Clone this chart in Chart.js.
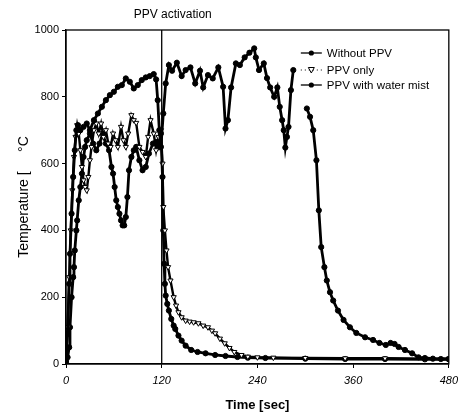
<!DOCTYPE html>
<html>
<head>
<meta charset="utf-8">
<script src="https://cdn.jsdelivr.net/npm/chart.js@4.4.0/dist/chart.umd.min.js"></script>
<style>
  body { margin: 0; background: #fff; }
  #wrap { width: 464px; height: 417px; }
</style>
</head>
<body>
<div id="wrap"><canvas id="grafico" width="464" height="417"></canvas></div>
<script>
// valores (tempo em s, temperatura em °C)
const seriesNames = ['Without PPV', 'PPV only', 'PPV with water mist'];

const withoutTime = [0, 2, 4, 5, 7, 9, 11, 13, 15, 18, 22, 26, 30, 35, 40, 45, 50, 55, 60, 65, 70, 75, 80, 85, 90, 95, 100, 105, 110, 113, 115, 117, 119,
  122, 125, 129, 133, 139, 145, 150, 156, 162, 168, 172, 178, 184, 191, 197, 200, 203, 207, 213, 218, 224, 230, 236, 238, 242, 248, 252, 256, 261, 265,
  268, 271, 273, 275, 277, 279, 282, 285, 293, 302, 306, 310, 314, 317, 320, 324, 327, 331, 335, 341, 348, 356, 364, 375, 385, 393, 401, 407, 412, 417,
  425, 434, 442, 450, 460, 470, 480];
const withoutTemp = [10, 90, 240, 330, 450, 560, 640, 700, 715, 700, 710, 720, 700, 730, 750, 770, 790, 805, 815, 830, 835, 855, 845, 825, 835, 850, 858, 862, 868, 852, 790, 700, 650,
  750, 840, 895, 878, 902, 862, 880, 888, 840, 878, 828, 865, 855, 888, 830, 705, 730, 828, 900, 895, 918, 932, 945, 918, 880, 900, 856, 828, 800, 828,
  770, 730, 700, 648, 680, 710, 820, 880, null, 765, 740, 700, 610, 460, 350, 290, 250, 215, 190, 160, 132, 110, 93, 80, 72, 63, 57, 63, 60, 51,
  42, 32, 20, 18, 16, 15, 15];

const ppvTime = [0, 2, 4, 6, 8, 10, 12, 14, 16, 18, 20, 22, 24, 26, 28, 30, 32, 35, 38, 41, 44, 47, 50, 53, 56, 59, 62, 65, 69, 72, 75, 78, 82, 85, 88,
  92, 96, 100, 103, 106, 110, 113, 116, 119, 121, 122, 124, 126, 128, 131, 135, 138, 141, 145, 150, 155, 160, 166, 172, 178, 183, 187, 193, 199, 205,
  211, 220, 228, 240, 260, 300, 350, 400, 450, 480];
const ppvTemp = [10, 110, 260, 400, 520, 620, 680, 715, 690, 640, 590, 550, 530, 520, 560, 610, 650, 700, 720, 690, 720, 680, 700, 660, 650, 690, 670, 650, 710, 670, 650, 690, 745, 730, 722,
  650, 635, 620, 680, 730, 690, 640, 680, 700, 600, 470, 400, 340, 290, 250, 200, 175, 155, 140, 130, 127, 125, 122, 115, 110, 100, 92, 76, 62, 48,
  36, 27, 22, 20, 19, 18, 17, 17, 16, 16];

const mistTime = [0, 2, 4, 5, 7, 9, 10, 11, 13, 14, 16, 18, 20, 22, 24, 26, 30, 34, 38, 42, 46, 50, 54, 57, 59, 61, 63, 65, 67, 69, 71, 73, 75, 77, 79,
  82, 85, 88, 92, 96, 100, 104, 109, 113, 116, 119, 121, 122, 123, 124, 125, 127, 129, 132, 135, 137, 141, 145, 150, 157, 165, 175, 187, 200, 215,
  228, 250, 300, 350, 400, 450, 480];
const mistTemp = [5, 20, 50, 110, 200, 260, 290, 340, 400, 430, 490, 530, 570, 620, 650, 670, 690, 660, 640, 660, 690, 660, 640, 590, 570, 530, 490, 470, 450, 430, 415, 415, 440, 500, 580,
  620, 640, 650, 610, 580, 590, 630, 660, 665, 650, 690, 560, 400, 300, 240, 205, 180, 160, 135, 115, 105, 85, 70, 55, 42, 36, 32, 27, 24, 21,
  19, 18, 16, 15, 15, 14, 14];

const xTicks = [0, 120, 240, 360, 480];
const yTicks = [0, 200, 400, 600, 800, 1000];
const ppvActivation = 120;

function pontos(tempos, temps) {
  return tempos.map((t, i) => ({ x: t, y: temps[i] }));
}

// linha vertical, moldura e legenda dentro do gráfico
const extras = {
  id: 'extras',
  afterDraw(chart) {
    const ctx = chart.ctx;
    const area = chart.chartArea;
    const xPos = chart.scales.x.getPixelForValue(ppvActivation);
    ctx.save();
    ctx.strokeStyle = '#000';
    ctx.lineWidth = 1.3;
    ctx.beginPath();
    ctx.moveTo(xPos, area.top);
    ctx.lineTo(xPos, area.bottom);
    ctx.stroke();
    ctx.strokeRect(area.left, area.top, area.right - area.left, area.bottom - area.top);

    ctx.fillStyle = '#000';
    ctx.font = '12px "Liberation Sans", Arial, sans-serif';
    ctx.textAlign = 'center';
    ctx.textBaseline = 'middle';
    ctx.fillText('PPV activation', xPos + 11, 15);

    // legenda
    const x0 = area.right - 148;
    const rows = [area.top + 23, area.top + 40, area.top + 55];
    ctx.textAlign = 'left';
    ctx.font = '11.5px "Liberation Sans", Arial, sans-serif';
    rows.forEach((y, i) => {
      ctx.beginPath();
      ctx.lineWidth = i === 1 ? 1 : 1.3;
      ctx.setLineDash(i === 1 ? [1, 3] : []);
      ctx.moveTo(x0, y);
      ctx.lineTo(x0 + 21, y);
      ctx.stroke();
      ctx.setLineDash([]);
      const cx = x0 + 10.5;
      if (i === 1) {
        ctx.beginPath();
        ctx.moveTo(cx - 3, y - 2.5);
        ctx.lineTo(cx + 3, y - 2.5);
        ctx.lineTo(cx, y + 3);
        ctx.closePath();
        ctx.fillStyle = '#fff';
        ctx.fill();
        ctx.stroke();
        ctx.fillStyle = '#000';
      } else {
        ctx.beginPath();
        ctx.arc(cx, y, 2.6, 0, Math.PI * 2);
        ctx.fill();
      }
      ctx.fillText(seriesNames[i], x0 + 26, y + 1);
    });
    ctx.restore();
  }
};

function criarGrafico() {
  const ctx = document.getElementById('grafico').getContext('2d');
  new Chart(ctx, {
    type: 'line',
    data: {
      datasets: [
        {
          label: seriesNames[0],
          data: pontos(withoutTime, withoutTemp),
          borderColor: '#000',
          backgroundColor: '#000',
          borderWidth: 2.8,
          pointStyle: 'circle',
          pointRadius: 2.6,
          pointBorderWidth: 1,
          spanGaps: false
        },
        {
          label: seriesNames[1],
          data: pontos(ppvTime, ppvTemp),
          borderColor: '#000',
          backgroundColor: '#fff',
          borderWidth: 2.4,
          pointStyle: 'triangle',
          pointRotation: 180,
          pointRadius: 3,
          pointBorderWidth: 1
        },
        {
          label: seriesNames[2],
          data: pontos(mistTime, mistTemp),
          borderColor: '#000',
          backgroundColor: '#000',
          borderWidth: 2.8,
          pointStyle: 'circle',
          pointRadius: 2.6,
          pointBorderWidth: 1
        }
      ]
    },
    options: {
      responsive: false,
      animation: false,
      layout: { padding: { left: 12, right: 10, top: 30, bottom: 0 } },
      plugins: {
        legend: { display: false },
        tooltip: { enabled: false }
      },
      scales: {
        x: {
          type: 'linear',
          min: 0,
          max: 480,
          afterFit: s => { s.height = 53; },
          afterBuildTicks: s => { s.ticks = xTicks.map(v => ({ value: v })); },
          grid: { display: true, drawOnChartArea: false, tickLength: 4, color: '#000' },
          border: { color: '#000', width: 1.3 },
          ticks: {
            padding: 6,
            color: '#000',
            callback: v => String(v),
            font: { family: '"Liberation Sans", Arial, sans-serif', size: 11, style: 'italic' }
          },
          title: {
            display: true,
            text: 'Time [sec]',
            color: '#000',
            padding: { top: 2, bottom: 4 },
            font: { family: '"Liberation Sans", Arial, sans-serif', size: 13, weight: 'bold' }
          }
        },
        y: {
          min: 0,
          max: 1000,
          afterFit: s => { s.width = 54; },
          afterBuildTicks: s => { s.ticks = yTicks.map(v => ({ value: v })); },
          grid: { display: true, drawOnChartArea: false, tickLength: 4, color: '#000' },
          border: { color: '#000', width: 1.3 },
          ticks: {
            padding: 3,
            color: '#000',
            callback: v => String(v),
            font: { family: '"Liberation Sans", Arial, sans-serif', size: 11 }
          },
          title: {
            display: true,
            text: 'Temperature [     \u00B0C',
            color: '#000',
            font: { family: '"Liberation Sans", Arial, sans-serif', size: 14 }
          }
        }
      }
    },
    plugins: [extras]
  });
}

document.addEventListener('DOMContentLoaded', criarGrafico);
</script>
</body>
</html>
